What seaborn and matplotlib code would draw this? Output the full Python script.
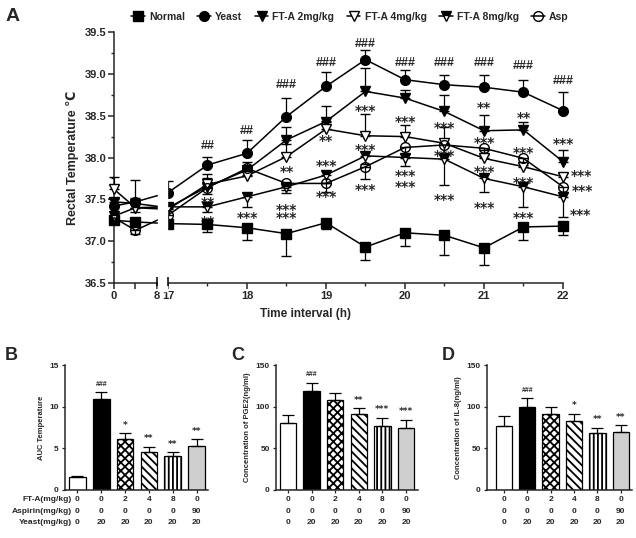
import numpy as np
import pandas as pd
import matplotlib
matplotlib.use("Agg")
import matplotlib.pyplot as plt
from matplotlib.lines import Line2D
import seaborn as sns

# ---------------- panel A: rectal temperature time course ----------------
TIMES = [0, 4, 17, 17.5, 18, 18.5, 19, 19.5, 20, 20.5, 21, 21.5, 22]

normal     = [37.25, 37.23, 37.21, 37.20, 37.16, 37.09, 37.22, 36.93, 37.10, 37.07, 36.92, 37.17, 37.18]
normal_err = [0.04, 0.05, 0.03, 0.09, 0.15, 0.27, 0.07, 0.15, 0.16, 0.24, 0.20, 0.16, 0.11]
yeast      = [37.42, 37.47, 37.58, 37.91, 38.05, 38.49, 38.85, 39.17, 38.93, 38.87, 38.84, 38.78, 38.56]
yeast_err  = [0.08, 0.26, 0.14, 0.10, 0.16, 0.22, 0.17, 0.12, 0.11, 0.12, 0.15, 0.15, 0.22]
fta2       = [37.47, 37.45, 37.40, 37.65, 37.85, 38.21, 38.43, 38.79, 38.71, 38.55, 38.32, 38.33, 37.95]
fta2_err   = [0.05, 0.06, 0.05, 0.15, 0.10, 0.16, 0.19, 0.28, 0.10, 0.20, 0.19, 0.10, 0.14]
fta4       = [37.62, 37.40, 37.38, 37.68, 37.78, 38.01, 38.34, 38.26, 38.25, 38.17, 37.99, 37.89, 37.77]
fta4_err   = [0.15, 0.08, 0.06, 0.08, 0.08, 0.15, 0.10, 0.26, 0.14, 0.20, 0.10, 0.05, 0.05]
fta8       = [37.30, 37.40, 37.41, 37.41, 37.53, 37.65, 37.79, 38.02, 38.00, 37.98, 37.75, 37.65, 37.53]
fta8_err   = [0.05, 0.05, 0.05, 0.06, 0.12, 0.08, 0.10, 0.10, 0.10, 0.31, 0.16, 0.24, 0.24]
asp        = [37.28, 37.13, 37.31, 37.64, 37.87, 37.69, 37.69, 37.89, 38.12, 38.15, 38.11, 37.99, 37.65]
asp_err    = [0.05, 0.05, 0.06, 0.08, 0.08, 0.08, 0.10, 0.15, 0.08, 0.10, 0.08, 0.08, 0.06]

# significance labels (time, temperature level, text)
ann_t = [17.5, 18, 18.5, 19, 19.5, 20, 20.5, 21, 21.5, 22,
         17.5, 17.5, 18, 18.5, 18.5, 18.5,
         19, 19, 19, 19.5, 19.5, 19.5, 20, 20, 20, 20.5, 20.5, 20.5,
         21, 21, 21, 21, 21.5, 21.5, 21.5, 21.5, 22, 22.24, 22.25, 22.22]
ann_v = [38.16, 38.33, 38.88, 39.15, 39.37, 39.15, 39.15, 39.15, 39.11, 38.93,
         37.50, 37.27, 37.32, 37.87, 37.42, 37.32,
         38.24, 37.94, 37.57, 38.60, 38.13, 37.66, 38.47, 37.82, 37.69, 38.40, 38.06, 37.53,
         38.63, 38.22, 37.87, 37.44, 38.52, 38.10, 37.74, 37.32, 38.20, 37.82, 37.64, 37.36]
ann_txt = ["##", "##", "###", "###", "###", "###", "###", "###", "###", "###",
           "**", "**", "***", "**", "***", "***",
           "**", "***", "***", "***", "***", "***", "***", "***", "***", "***", "***", "***",
           "**", "***", "***", "***", "**", "***", "***", "***", "***", "***", "***", "***"]

# ---------------- panels B-D: bar charts ----------------
GROUPS = ["Normal", "Yeast", "FT-A 2", "FT-A 4", "FT-A 8", "Asp"]
FTA_DOSE = [0, 0, 2, 4, 8, 0]
ASP_DOSE = [0, 0, 0, 0, 0, 90]
YEAST_DOSE = [0, 20, 20, 20, 20, 20]

auc      = [1.6, 10.9, 6.1, 4.6, 4.1, 5.3]
auc_err  = [0.05, 0.8, 0.7, 0.6, 0.45, 0.8]
auc_sig  = ["", "###", "*", "**", "**", "**"]
pge2     = [80, 118.8, 108, 91.2, 76.8, 74.4]
pge2_err = [10, 10, 8, 7, 10, 9.6]
pge2_sig = ["", "###", "", "**", "***", "***"]
il8      = [76.8, 100, 91.2, 83.2, 68, 69.6]
il8_err  = [12, 10, 8, 8, 6.8, 8]
il8_sig  = ["", "###", "", "*", "**", "**"]

BAR_COLORS = ["white", "black", "white", "white", "white", "#cfcfcf"]
HATCHES = ["", "", "xxxx", "\\\\\\\\", "||||", ""]

sns.set_theme(style="ticks")
plt.rcParams["font.family"] = ["Liberation Sans", "DejaVu Sans"]
plt.rcParams["font.weight"] = "bold"
plt.rcParams["axes.labelweight"] = "bold"
plt.rcParams["hatch.linewidth"] = 1.3
plt.rcParams["axes.linewidth"] = 1.1

fig = plt.figure(figsize=(6.36, 5.38), dpi=100)


# broken time axis: 0-8 h squeezed, 17-22 h at full width
def fwd(t):
    t = np.asarray(t, float)
    return np.where(t <= 8, t * 0.068,
                    np.where(t <= 17, 0.544 + (t - 8) * (0.139 / 9), t - 16.317))


def inv(u):
    u = np.asarray(u, float)
    return np.where(u <= 0.544, u / 0.068,
                    np.where(u <= 0.683, 8 + (u - 0.544) * 9 / 0.139, u + 16.317))


ax = fig.add_axes([114 / 636, 1 - 283 / 538, 449 / 636, 251 / 538])
ax.set_xscale("function", functions=(fwd, inv))

series = [
    ("Normal", normal, normal_err, "down", dict(marker="s", mfc="black", ms=6.5)),
    ("Yeast", yeast, yeast_err, "up", dict(marker="o", mfc="black", ms=7)),
    ("FT-A 2mg/kg", fta2, fta2_err, "up", dict(marker="v", mfc="black", ms=7)),
    ("FT-A 4mg/kg", fta4, fta4_err, "up", dict(marker="v", mfc="white", ms=7)),
    ("FT-A 8mg/kg", fta8, fta8_err, "down", dict(marker="v", mfc="black", fillstyle="top",
                                                   markerfacecoloralt="white", ms=7)),
    ("Asp", asp, asp_err, "down", dict(marker="o", fillstyle="none", ms=7)),
]

handles = []
for name, vals, err, side, style in series:
    err = np.asarray(err)
    zero = np.zeros_like(err)
    yerr = [zero, err] if side == "up" else [err, zero]
    eb = ax.errorbar(TIMES, vals, yerr=yerr, color="black", lw=1.1, elinewidth=0.9,
                     capsize=3.5, capthick=0.9, mec="black", mew=1.0, zorder=3, **style)
    for a in eb.get_children():
        a.set_clip_on(False)
    handles.append(Line2D([], [], color="black", lw=1.1, mec="black", mew=1.0, **style))

# gap in the axis and lines at the break
ax.axvspan(8.7, 16.3, ymin=-0.03, ymax=1, color="white", zorder=4, clip_on=False)
ax.vlines([8, 17], -0.012, 0.022, transform=ax.get_xaxis_transform(), colors="black",
          lw=1.1, clip_on=False, zorder=5)

for t, v, s in zip(ann_t, ann_v, ann_txt):
    if "*" in s:
        ax.annotate(s, (t, v), xytext=(0, -5.5), textcoords="offset points", ha="center",
                    va="baseline", fontsize=10, fontweight="bold", family="DejaVu Sans",
                    annotation_clip=False)
    else:
        ax.annotate(s, (t, v), xytext=(0, -3.2), textcoords="offset points", ha="center",
                    va="baseline", fontsize=9, fontweight="bold", annotation_clip=False)

ax.set_xlim(0, 22)
ax.set_ylim(36.5, 39.5)
ax.set_xticks([0, 4, 8, 17, 18, 19, 20, 21, 22])
ax.set_xticklabels(["0", "", "8", "17", "18", "19", "20", "21", "22"])
ax.set_xticks([17.5, 18.5, 19.5, 20.5, 21.5], minor=True)
ax.set_yticks(np.arange(36.5, 39.51, 0.5))
ax.set_yticklabels([f"{v:.1f}" for v in np.arange(36.5, 39.51, 0.5)])
ax.set_yticks(np.arange(36.75, 39.5, 0.5), minor=True)
ax.tick_params(axis="both", which="major", labelsize=8, length=4, width=1.1, pad=1.5)
ax.tick_params(axis="both", which="minor", length=2.5, width=1.0)
for lab in ax.get_xticklabels() + ax.get_yticklabels():
    lab.set_fontweight("bold")
sns.despine(ax=ax)
ax.set_ylabel("Rectal Temperature \u2103", fontsize=9, labelpad=4)
ax.set_xlabel("Time interval (h)", fontsize=8.5, labelpad=12)
ax.xaxis.set_label_coords((305 - 114) / 449, -0.1)

fig.legend(handles, [s[0] for s in series], loc="center", bbox_to_anchor=(350 / 636, 1 - 17 / 538),
           ncol=6, frameon=False, fontsize=7.5, handlelength=1.3, handletextpad=0.4,
           columnspacing=1.2, borderaxespad=0)
fig.text(6 / 636, 1 - 8 / 538, "A", fontsize=14, fontweight="bold", va="top")


def bar_panel(rect, letter, letter_x, vals, errs, sig, ymax, ystep, ylabel, xlim, row_names=False):
    bax = fig.add_axes(rect)
    df = pd.DataFrame({"group": GROUPS, "value": vals})
    sns.barplot(data=df, x="group", y="value", hue="group", palette=BAR_COLORS, width=0.7,
                edgecolor="black", linewidth=0.9, legend=False, errorbar=None, ax=bax)
    for patch, h in zip(bax.patches, HATCHES):
        patch.set_hatch(h)
    errs = np.asarray(errs)
    bax.errorbar(range(len(vals)), vals, yerr=[np.zeros_like(errs), errs], fmt="none",
                 ecolor="black", elinewidth=0.9, capsize=4, capthick=0.9)
    for i, (v, e, s) in enumerate(zip(vals, errs, sig)):
        if not s:
            continue
        if "*" in s:
            bax.annotate(s, (i, v + e), xytext=(0, 4), textcoords="offset points", ha="center",
                         va="baseline", fontsize=6.5, family="DejaVu Sans", fontweight="bold")
        else:
            bax.annotate(s, (i, v + e), xytext=(0, 4.5), textcoords="offset points", ha="center",
                         va="baseline", fontsize=5, fontweight="bold")
    bax.set_xlim(*xlim)
    bax.set_ylim(0, ymax)
    bax.set_yticks(np.arange(0, ymax + 0.01, ystep))
    bax.set_xticks(range(len(vals)))
    bax.set_xticklabels([f"{a}\n{b}\n{c}" for a, b, c in zip(FTA_DOSE, ASP_DOSE, YEAST_DOSE)],
                        linespacing=1.9)
    bax.tick_params(axis="both", labelsize=6, length=2.5, width=0.9, pad=2)
    for lab in bax.get_xticklabels() + bax.get_yticklabels():
        lab.set_fontweight("bold")
    bax.set_xlabel("")
    bax.set_ylabel(ylabel, fontsize=5.5, labelpad=3)
    sns.despine(ax=bax)
    if row_names:
        bax.annotate("FT-A(mg/kg)\nAspirin(mg/kg)\nYeast(mg/kg)", (-0.23, 0),
                     xycoords=("data", "axes fraction"), xytext=(0, -4.5),
                     textcoords="offset points", ha="right", va="top", fontsize=6,
                     fontweight="bold", linespacing=1.9, annotation_clip=False)
    fig.text(letter_x / 636, 1 - 347 / 538, letter, fontsize=13, fontweight="bold", va="top")
    return bax


bar_panel([65 / 636, 1 - 490 / 538, 143 / 636, 125 / 538], "B", 5, auc, auc_err, auc_sig,
          15, 5, "AUC Temperature", (-0.52, 5.48), row_names=True)
bar_panel([276 / 636, 1 - 490 / 538, 142 / 636, 125 / 538], "C", 231, pge2, pge2_err, pge2_sig,
          150, 50, "Concentration of PGE2(ng/ml)", (-0.51, 5.51))
bar_panel([487 / 636, 1 - 490 / 538, 145 / 636, 125 / 538], "D", 442, il8, il8_err, il8_sig,
          150, 50, "Concentration of IL-8(ng/ml)", (-0.72, 5.48))

fig.savefig("out.png", dpi=100)
